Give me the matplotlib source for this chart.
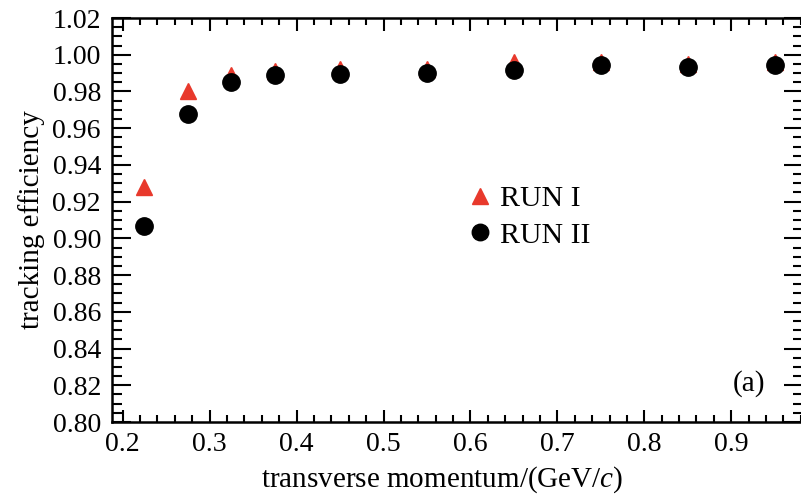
import matplotlib
matplotlib.use("Agg")
import matplotlib.pyplot as plt
from matplotlib.ticker import MultipleLocator, FormatStrFormatter

# data
pt = [0.225, 0.275, 0.325, 0.375, 0.45, 0.55, 0.65, 0.75, 0.85, 0.95]
run1 = [0.928, 0.980, 0.989, 0.991, 0.992, 0.9925, 0.996, 0.996, 0.995, 0.996]
run2 = [0.907, 0.9675, 0.985, 0.989, 0.9895, 0.990, 0.9918, 0.9945, 0.9935, 0.9945]

plt.rcParams["font.family"] = ["Liberation Serif", "DejaVu Serif"]
plt.rcParams["mathtext.fontset"] = "custom"
plt.rcParams["mathtext.it"] = "Liberation Serif:italic"
plt.rcParams["mathtext.rm"] = "Liberation Serif"

fig = plt.figure(figsize=(8.01, 4.97), dpi=100)
ax = fig.add_axes([112 / 801, 1 - 422 / 497, 1.0 - 112 / 801 + 0.003, (422 - 18) / 497])

# triangles first, circles drawn on top
ax.plot(pt, run1, linestyle="none", marker="^", color="#e8392c", markersize=12, label="RUN I")
ax.plot(pt, run2, linestyle="none", marker="o", color="black", markersize=12.5, label="RUN II")

ax.set_xlim(0.1877, 0.983)
ax.set_ylim(0.80, 1.02)

ax.xaxis.set_major_locator(MultipleLocator(0.1))
ax.xaxis.set_minor_locator(MultipleLocator(0.02))
ax.yaxis.set_major_locator(MultipleLocator(0.02))
ax.yaxis.set_minor_locator(MultipleLocator(0.005))
ax.xaxis.set_major_formatter(FormatStrFormatter("%.1f"))
ax.yaxis.set_major_formatter(FormatStrFormatter("%.2f"))

ax.tick_params(axis="both", which="both", direction="in", top=True, right=True, width=1.5)
ax.tick_params(axis="x", which="major", length=9, labelsize=20, pad=7)
ax.tick_params(axis="x", which="minor", length=5)
ax.tick_params(axis="y", which="major", length=14, labelsize=20, pad=8)
ax.tick_params(axis="y", which="minor", length=7)
for s in ax.spines.values():
    s.set_linewidth(1.8)

ax.set_xlabel("transverse momentum/(GeV/$c$)", fontsize=21)
ax.xaxis.set_label_coords(0.4775, -0.106)
ax.set_ylabel("tracking efficiency", fontsize=21, labelpad=5)

ax.legend(loc="upper left", bbox_to_anchor=(0.472, 0.652), frameon=False, fontsize=21.5,
          handletextpad=0.15, labelspacing=0.32, handlelength=1.0, markerscale=0.95)

ax.text(0.9216, 0.095, "(a)", transform=ax.transAxes, fontsize=21, ha="center", va="center")

fig.savefig("out.png", dpi=100)
